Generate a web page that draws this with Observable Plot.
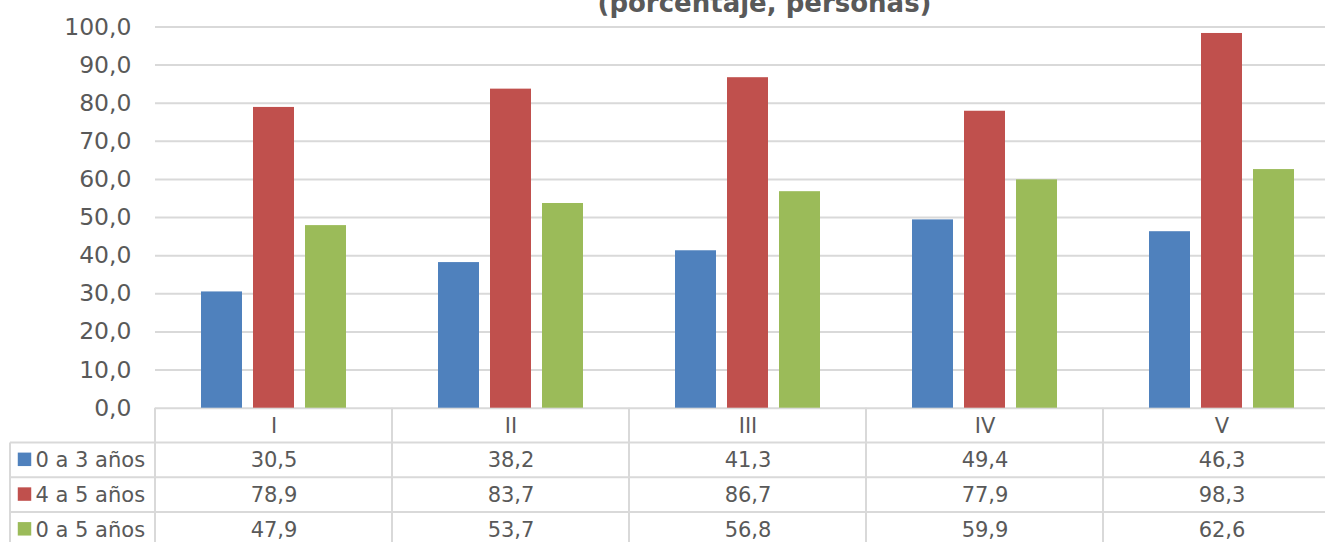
<!DOCTYPE html>
<html>
<head>
<meta charset="utf-8">
<script src="https://cdn.jsdelivr.net/npm/d3@7"></script>
<script src="https://cdn.jsdelivr.net/npm/@observablehq/plot@0.6"></script>
<style>
  html, body { margin: 0; padding: 0; background: #ffffff; overflow: hidden; }
  #chart { width: 1340px; }
</style>
</head>
<body>
<div id="chart"></div>
<script>
// ---- data ----
const titleText = "(porcentaje, personas)";
const categories = ["I", "II", "III", "IV", "V"];
const seriesNames = ["0 a 3 años", "4 a 5 años", "0 a 5 años"];
const values0to3 = [30.5, 38.2, 41.3, 49.4, 46.3];
const values4to5 = [78.9, 83.7, 86.7, 77.9, 98.3];
const values0to5 = [47.9, 53.7, 56.8, 59.9, 62.6];
const yTicks = [0, 10, 20, 30, 40, 50, 60, 70, 80, 90, 100];
const seriesColors = ["#4f81bd", "#c0504d", "#9bbb59"];

const seriesValues = [values0to3, values4to5, values0to5];
const rows = categories.flatMap((c, i) =>
  seriesNames.map((s, j) => ({cat: c, serie: s, value: seriesValues[j][i]})));

const fmt = v => d3.format(".1f")(v).replace(".", ",");
const textColor = "#595959";
const gridColor = "#d9d9d9";
const rowH = 34.75;

const marks = [
  Plot.gridY(yTicks, {stroke: gridColor, strokeOpacity: 1, strokeWidth: 2}),
  Plot.axisY(yTicks, {tickSize: 0, tickPadding: 24, fontSize: 23.5, fill: textColor, label: null, tickFormat: fmt}),
  Plot.barY(rows, {fx: "cat", x: "serie", y: "value", fill: "serie"}),
  // header row (category labels)
  Plot.text(categories, {fx: d => d, text: d => d, frameAnchor: "bottom", lineAnchor: "middle", dy: rowH / 2 + 1, fontSize: 21, fill: textColor}),
  // title (second line of the original title, partly cut at the top edge as in the reference)
  Plot.text([titleText], {frameAnchor: "top", lineAnchor: "middle", facet: "super", dx: 16.5, dy: -23.3, fontWeight: "bold", fontSize: 26, fill: textColor})
];

seriesNames.forEach((s, j) => {
  const dy = rowH / 2 + (j + 1) * rowH;
  marks.push(Plot.text(rows.filter(r => r.serie === s), {fx: "cat", text: d => fmt(d.value), frameAnchor: "bottom", lineAnchor: "middle", dy, fontSize: 21, fill: textColor}));
  marks.push(Plot.text([s], {text: d => d, frameAnchor: "bottom-left", lineAnchor: "middle", facet: "super", dx: -120, dy, textAnchor: "start", fontSize: 21, fill: textColor}));
  marks.push(Plot.dot([s], {frameAnchor: "bottom-left", facet: "super", dx: -131, dy: dy - 1, symbol: "square", r: 7.6, fill: d => d}));
});

const plot = Plot.plot({
  width: 1340,
  height: 542,
  marginTop: 26.5,
  marginBottom: 134.3,
  marginLeft: 155,
  marginRight: 0,
  style: {fontFamily: "'DejaVu Sans', Verdana, sans-serif", fontSize: "21px", color: textColor, background: "#ffffff", overflow: "visible"},
  fx: {domain: categories, padding: 0, axis: null, label: null},
  x: {domain: seriesNames, paddingInner: 0.219, paddingOuter: 0.867, axis: null},
  y: {domain: [0, 100], axis: null},
  color: {domain: seriesNames, range: seriesColors},
  marks
});

// table borders, positioned from the plot's own scales
const fxScale = plot.scale("fx");
const yScale = plot.scale("y");
const y0 = yScale.apply(0);
const svg = d3.select(plot);
const g = svg.insert("g", ":first-child").attr("stroke", gridColor).attr("stroke-width", 2);
const xLeft = 10;
const xRight = fxScale.apply(categories[categories.length - 1]) + fxScale.bandwidth;
const bottom = y0 + rowH * 4 + 2;
categories.forEach(c => {
  const x = fxScale.apply(c);
  g.append("line").attr("x1", x).attr("x2", x).attr("y1", y0).attr("y2", bottom);
});
g.append("line").attr("x1", xRight).attr("x2", xRight).attr("y1", y0).attr("y2", bottom);
g.append("line").attr("x1", xLeft).attr("x2", xLeft).attr("y1", y0 + rowH).attr("y2", bottom);
for (let k = 1; k <= 3; k++) {
  const y = y0 + k * rowH;
  g.append("line").attr("x1", xLeft).attr("x2", xRight).attr("y1", y).attr("y2", y);
}

document.getElementById("chart").appendChild(plot);
</script>
</body>
</html>
